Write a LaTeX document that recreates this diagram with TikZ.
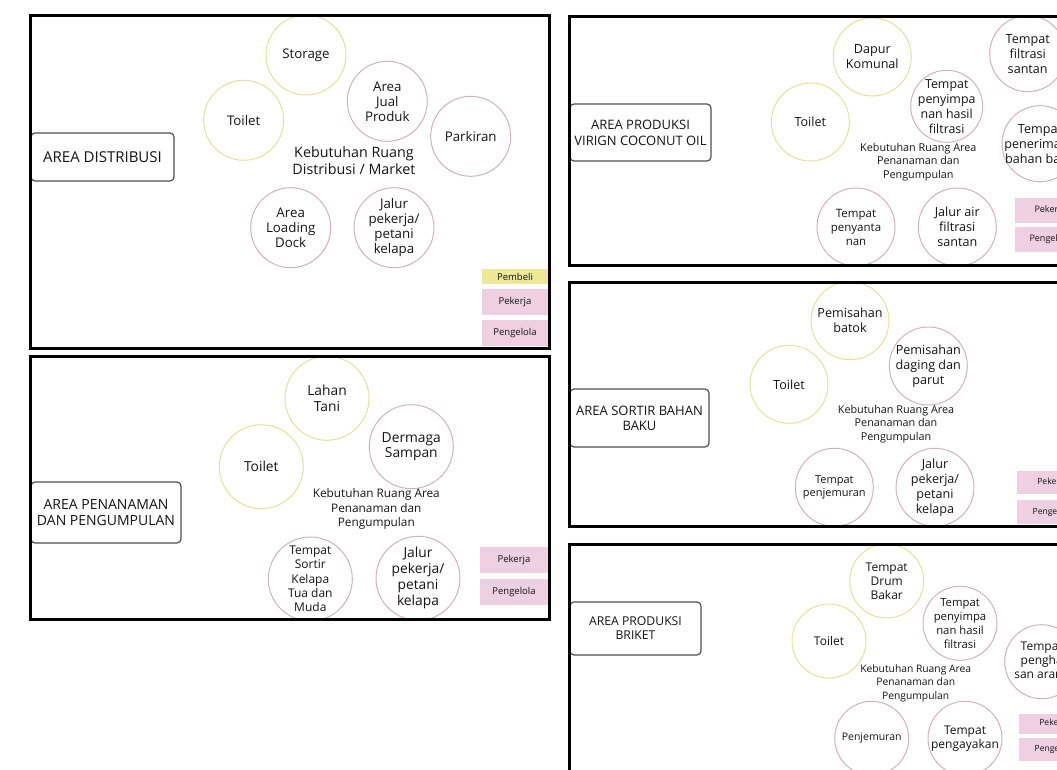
\documentclass[tikz,border=0pt]{standalone}
\usepackage{fontspec}
\setmainfont{Open Sans}
\usepackage{tikz}

\definecolor{ringyellow}{RGB}{230,224,152}
\definecolor{ringpink}{RGB}{210,178,186}
\definecolor{buyeryellow}{RGB}{236,232,152}
\definecolor{staffpink}{RGB}{238,208,226}
\definecolor{boxgray}{RGB}{80,80,80}
\definecolor{inkgray}{RGB}{20,20,20}

\newcommand{\fs}[2]{\fontsize{#1}{#2}\selectfont}

\begin{document}
\begin{tikzpicture}[x=1pt, y=-1pt,
    panel/.style={draw=black, line width=3pt},
    areabox/.style={draw=boxgray, line width=1.2pt, rounded corners=4pt, fill=white, inner sep=0pt, align=center, text=inkgray},
    ring/.style={circle, line width=1pt, inner sep=-14pt, align=center, text=inkgray},
    yring/.style={ring, draw=ringyellow},
    pring/.style={ring, draw=ringpink},
    buyer/.style={fill=buyeryellow, inner sep=0pt, text=inkgray},
    staff/.style={fill=staffpink, inner sep=0pt, text=inkgray},
    need/.style={align=center, text=inkgray}]

    \useasboundingbox (0,0) rectangle (1057,770);
    \clip (0,0) rectangle (1057,770);

    % panel 1: distribusi
    \begin{scope}
        \clip (30.5,15.5) rectangle (549.5,348.5);
        \node[areabox, minimum width=143, minimum height=48, font=\fs{15}{17}] (distribusi) at (102.5,157) {AREA DISTRIBUSI};

        \node[yring, minimum size=80, font=\fs{13.3}{15}] (storageA) at (306,55) {Storage};
        \node[yring, minimum size=80, font=\fs{13.3}{15}] (toiletA) at (243.7,120.3) {Toilet};
        \node[pring, minimum size=80, font=\fs{13.3}{15}] (jualA) at (387.3,101.3) {Area\\Jual\\Produk};
        \node[pring, minimum size=80, font=\fs{13.3}{15}] (parkirA) at (470.7,136.3) {Parkiran};
        \node[pring, minimum size=80, font=\fs{13.3}{15}] (dockA) at (290.7,227.7) {Area\\Loading\\Dock};
        \node[pring, minimum size=80, font=\fs{13.3}{15}] (jalurA) at (394,227.7) {Jalur\\pekerja/\\petani\\kelapa};

        \node[need, font=\fs{14.3}{17}] (needA) at (354,161) {Kebutuhan Ruang\\Distribusi / Market};

        % legend
        \node[buyer, minimum width=66, minimum height=15, font=\fs{9.5}{11}] (pembeliA) at (515,276.5) {Pembeli};
        \node[staff, minimum width=66, minimum height=26, font=\fs{9.5}{11}] (pekerjaA) at (515,302) {Pekerja};
        \node[staff, minimum width=66, minimum height=26, font=\fs{9.5}{11}] (pengelolaA) at (515,333) {Pengelola};
    \end{scope}
    \draw[panel] (30.5,15.5) rectangle (549.5,348.5);

    % panel 2: penanaman dan pengumpulan
    \begin{scope}
        \clip (30.5,356) rectangle (549.5,619.5);
        \node[areabox, minimum width=150, minimum height=61, font=\fs{14}{16.7}] (penanaman) at (106,512.5) {AREA PENANAMAN\\DAN PENGUMPULAN};

        \node[yring, minimum size=84, font=\fs{13.8}{15.3}] (lahanB) at (327,398.3) {Lahan\\Tani};
        \node[yring, minimum size=84, font=\fs{13.8}{15.3}] (toiletB) at (261.3,466.7) {Toilet};
        \node[pring, minimum size=84, font=\fs{13.8}{15.3}] (dermagaB) at (411.3,446.7) {Dermaga\\Sampan};
        \node[pring, minimum size=84, font=\fs{12}{14.3}] (sortirB) at (310.3,579) {Tempat\\Sortir\\Kelapa\\Tua dan\\Muda};
        \node[pring, minimum size=84, font=\fs{13.8}{16}] (jalurB) at (418,578.3) {Jalur\\pekerja/\\petani\\kelapa};

        \node[need, font=\fs{11.8}{14.3}] (needB) at (376.3,509) {Kebutuhan Ruang Area\\Penanaman dan\\Pengumpulan};

        % legend
        \node[staff, minimum width=68, minimum height=26, font=\fs{9.5}{11}] (pekerjaB) at (514,560) {Pekerja};
        \node[staff, minimum width=68, minimum height=26, font=\fs{9.5}{11}] (pengelolaB) at (514,592) {Pengelola};
    \end{scope}
    \draw[panel] (30.5,356) rectangle (549.5,619.5);

    % panel 3: produksi virgin coconut oil
    \begin{scope}
        \clip (569,16.5) rectangle (1110,265.5);
        \node[areabox, minimum width=141, minimum height=57, font=\fs{13}{16}] (vco) at (640.5,132.5) {AREA PRODUKSI\\VIRIGN COCONUT OIL};

        \node[yring, minimum size=78, font=\fs{12.6}{15}] (dapurC) at (872.3,57) {Dapur\\Komunal};
        \node[yring, minimum size=78, font=\fs{12.6}{15}] (toiletC) at (810.3,122) {Toilet};
        \node[pring, minimum size=72, font=\fs{12.4}{15}] (simpanC) at (946.7,106.3) {Tempat\\penyimpa\\nan hasil\\filtrasi};
        \node[pring, minimum size=76, font=\fs{12.6}{15}] (filtrasiC) at (1027.7,53.7) {Tempat\\filtrasi\\santan};
        \node[pring, minimum size=76, font=\fs{12.6}{15}] (terimaC) at (1040,143.7) {Tempat\\penerimaan\\bahan baku};
        \node[pring, minimum size=78, font=\fs{11.5}{14}] (santanC) at (856,227) {Tempat\\penyanta\\nan};
        \node[pring, minimum size=78, font=\fs{12.6}{15}] (jalurC) at (957.3,227) {Jalur air\\filtrasi\\santan};

        \node[need, font=\fs{10.8}{13.3}] (needC) at (918.3,162) {Kebutuhan Ruang Area\\Penanaman dan\\Pengumpulan};

        % legend
        \node[staff, minimum width=70, minimum height=25, font=\fs{9}{11}] (pekerjaC) at (1050,210.5) {Pekerja};
        \node[staff, minimum width=70, minimum height=25, font=\fs{9}{11}] (pengelolaC) at (1050,239.5) {Pengelola};
    \end{scope}
    \draw[panel] (569,16.5) rectangle (1110,265.5);

    % panel 4: sortir bahan baku
    \begin{scope}
        \clip (569,282) rectangle (1110,526.5);
        \node[areabox, minimum width=139, minimum height=58, font=\fs{13}{15}] (sortir) at (639.5,418) {AREA SORTIR BAHAN\\BAKU};

        \node[yring, minimum size=78, font=\fs{12.6}{15}] (batokD) at (850,320.7) {Pemisahan\\batok};
        \node[yring, minimum size=78, font=\fs{12.6}{15}] (toiletD) at (789,384.3) {Toilet};
        \node[pring, minimum size=78, font=\fs{12.6}{15}] (dagingD) at (928.3,366) {Pemisahan\\daging dan\\parut};
        \node[pring, minimum size=78, font=\fs{11}{13.3}] (jemurD) at (834.3,487.3) {Tempat\\penjemuran};
        \node[pring, minimum size=78, font=\fs{12.6}{15}] (jalurD) at (935,487.3) {Jalur\\pekerja/\\petani\\kelapa};

        \node[need, font=\fs{10.8}{13.3}] (needD) at (896,424) {Kebutuhan Ruang Area\\Penanaman dan\\Pengumpulan};

        % legend
        \node[staff, minimum width=70, minimum height=23, font=\fs{8.5}{10}] (pekerjaD) at (1052,482.5) {Pekerja};
        \node[staff, minimum width=70, minimum height=24, font=\fs{8.5}{10}] (pengelolaD) at (1052,512) {Pengelola};
    \end{scope}
    \draw[panel] (569,282) rectangle (1110,526.5);

    % panel 5: produksi briket
    \begin{scope}
        \clip (569,544.5) rectangle (1110,800);
        \node[areabox, minimum width=131, minimum height=53, font=\fs{12.2}{14}] (briket) at (635.5,628.5) {AREA PRODUKSI\\BRIKET};

        \node[yring, minimum size=74, font=\fs{12}{14}] (drumE) at (886.7,581) {Tempat\\Drum\\Bakar};
        \node[yring, minimum size=74, font=\fs{12}{14}] (toiletE) at (829,641) {Toilet};
        \node[pring, minimum size=74, font=\fs{11.3}{14}] (simpanE) at (960,623.3) {Tempat\\penyimpa\\nan hasil\\filtrasi};
        \node[pring, minimum size=74, font=\fs{12}{14}] (arangE) at (1041.7,661.7) {Tempat\\pengha\\san arang};
        \node[pring, minimum size=74, font=\fs{10.5}{12}] (jemurE) at (871.7,738.3) {Penjemuran};
        \node[pring, minimum size=74, font=\fs{12}{14}] (ayakE) at (965,738.3) {Tempat\\pengayakan};

        \node[need, font=\fs{10.3}{13.3}] (needE) at (915.7,683.3) {Kebutuhan Ruang Area\\Penanaman dan\\Pengumpulan};

        % legend
        \node[staff, minimum width=70, minimum height=20, font=\fs{8.5}{10}] (pekerjaE) at (1054,723.5) {Pekerja};
        \node[staff, minimum width=70, minimum height=23, font=\fs{8.5}{10}] (pengelolaE) at (1054,749.5) {Pengelola};
    \end{scope}
    \draw[panel] (569,544.5) rectangle (1110,800);
\end{tikzpicture}
\end{document}
